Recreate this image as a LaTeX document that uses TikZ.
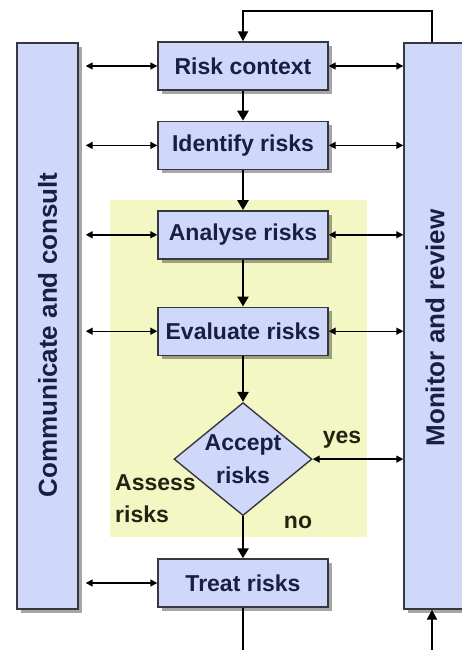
\documentclass[tikz,border=0pt]{standalone}
\usepackage{fontspec}
\setmainfont{Liberation Sans}
\usetikzlibrary{positioning,arrows.meta,shapes.geometric,shadows}
\definecolor{boxblue}{RGB}{208,216,250}
\definecolor{zoneyellow}{RGB}{242,247,195}
\definecolor{boxline}{RGB}{55,55,65}
\definecolor{boxtext}{RGB}{25,30,70}
\definecolor{lbltext}{RGB}{35,35,20}

\begin{document}
\begin{tikzpicture}[x=1pt, y=-1pt,
  boxbase/.style={draw=boxline, line width=1.4pt, fill=boxblue, text=boxtext, align=center,
    font=\fontsize{23}{33}\selectfont\bfseries, inner sep=0pt},
  stage/.style={boxbase, minimum width=170pt, minimum height=48pt,
    drop shadow={shadow xshift=4pt, shadow yshift=-4pt, fill=black, opacity=.35}},
  side/.style={stage, minimum width=61pt, minimum height=566pt},
  sidetext/.style={text=boxtext, font=\fontsize{26}{30}\selectfont\bfseries, rotate=90, inner sep=0pt},
  decision/.style={boxbase, diamond, aspect=1.22, minimum width=138pt, minimum height=113pt, inner sep=-3pt},
  lbl/.style={text=lbltext, font=\fontsize{23}{32}\selectfont\bfseries, align=left, inner sep=0pt},
  flow/.style={-{Triangle[length=10pt,width=11pt]}, line width=2.8pt},
  twoway/.style={{Triangle[length=7pt,width=7pt]}-{Triangle[length=7pt,width=7pt]}, line width=1.4pt},
  feedback/.style={-{Triangle[length=10pt,width=10pt]}, line width=2pt},
]
\useasboundingbox (0,0) rectangle (462,650);
\clip (0,0) rectangle (462,650);
% assess risks zone
\fill[zoneyellow] (110,200) rectangle (367,537);
% side columns
\node[side] (comm) at (47.5,326) {};
\node[sidetext] (commtext) at (47.5,335) {Communicate and consult};
\node[side, minimum width=62pt] (mon) at (435,326) {};
\node[sidetext] (montext) at (435,328) {Monitor and review};
% main steps
\node[stage] (ctx) at (243,66) {Risk context};
\node[stage, below=30pt of ctx] (ident) {Identify risks};
\node[stage, below=40pt of ident] (anal) {Analyse risks};
\node[stage, below=47pt of anal] (eval) {Evaluate risks};
\node[decision, below=46pt of eval] (acc) {Accept\\risks};
\node[stage, below=42pt of acc] (treat) {Treat risks};
\node[lbl] (yes) at (342,440) {yes};
\node[lbl] (no) at (298,522) {no};
\node[lbl, anchor=west] (assess) at (115,499) {Assess\\risks};
\coordinate (exit) at ([yshift=-60pt]treat.south);
\coordinate (entry) at ([xshift=-3pt,yshift=-60pt]mon.south);
% flow
\draw[flow] (ctx) -- (ident);
\draw[flow] (ident) -- (anal);
\draw[flow] (anal) -- (eval);
\draw[flow] (eval) -- (acc);
\draw[flow] (acc) -- (treat);
\draw[line width=2.8pt] (treat) -- (exit);
\draw[feedback] ([xshift=-3pt]mon.north) -- ++(0,-31) -| (ctx.north);
\draw[feedback] (entry) -- ([xshift=-3pt]mon.south);
% links to the side columns
\foreach \s in {ctx,ident,anal,eval,treat}
  \draw[twoway, shorten <=7pt] (\s.west -| comm.east) -- (\s.west);
\foreach \s in {ctx,ident,anal,eval,acc}
  \draw[twoway] (\s.east) -- (\s.east -| mon.west);
\end{tikzpicture}
\end{document}
